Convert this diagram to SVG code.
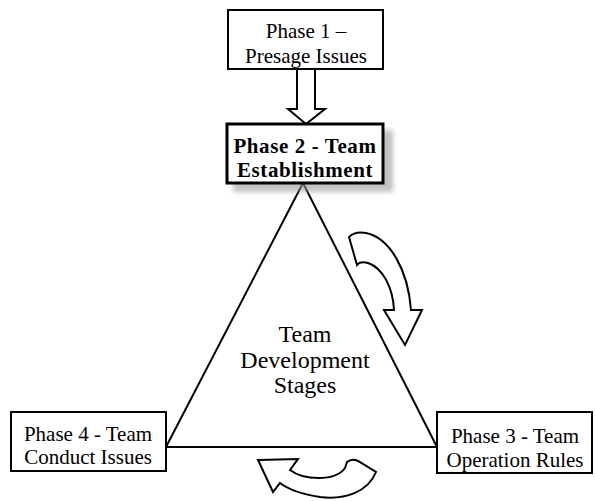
<svg xmlns="http://www.w3.org/2000/svg" width="596" height="501" viewBox="0 0 596 501">
<style>
.box{fill:#fff;stroke:#000;stroke-width:2}
.t{font-family:"Liberation Serif","Times New Roman",serif;font-size:21px;fill:#000;text-anchor:middle}
.b{font-weight:bold;letter-spacing:0.6px}
.c{font-size:24px}
.ln{fill:none;stroke:#000;stroke-width:2;stroke-linejoin:round}
.arr{fill:#fff;stroke:#000;stroke-width:2;stroke-linejoin:miter}
</style>
<defs>
<filter id="sh" x="-20%" y="-20%" width="140%" height="140%"><feGaussianBlur stdDeviation="2.5"/></filter>
</defs>
<rect width="596" height="501" fill="#fff"/>
<g id="connectors">
<polygon id="triangle" class="ln" points="303,183 166,447 437,447"/>
<path class="arr" d="M297,69 L297,109 L288,109 L306,124 L325,109 L315,109 L315,69"/>
<path class="arr" d="M349,237 Q355,231 366,233 C390,238 408,270 411,310 L422,310 L405,345 L384,310 L394,310 C393,288 383,268 368,263 Q360,261 357,265 Z"/>
<path class="arr" d="M258,460 L298,459 L290,470 C303,480 335,482 345,468 L347,462 Q352,458 358,461 L376,472 C368,492 345,500 320,497 C300,494 288,489 280,483 L273,492 Z"/>
</g>
<g id="phase1">
<rect class="box" x="228" y="10" width="155" height="59"/>
<text class="t" x="306" y="38">Phase 1 –</text>
<text class="t" x="306" y="63">Presage Issues</text>
</g>
<g id="phase2">
<rect x="233" y="130" width="160" height="62" fill="#999" opacity="0.6" filter="url(#sh)"/>
<rect class="box" x="227" y="124" width="156" height="59" style="stroke-width:3"/>
<text class="t b" x="305" y="153">Phase 2 - Team</text>
<text class="t b" x="305" y="177">Establishment</text>
</g>
<g id="center">
<text class="t c" x="305" y="342">Team</text>
<text class="t c" x="305" y="368">Development</text>
<text class="t c" x="305" y="393">Stages</text>
</g>
<g id="phase4">
<rect class="box" x="11" y="412" width="155" height="59"/>
<text class="t" x="88" y="441">Phase 4 - Team</text>
<text class="t" x="88" y="464">Conduct Issues</text>
</g>
<g id="phase3">
<rect class="box" x="437" y="412" width="155" height="61"/>
<text class="t" x="515" y="443">Phase 3 - Team</text>
<text class="t" x="515" y="467">Operation Rules</text>
</g>
</svg>
